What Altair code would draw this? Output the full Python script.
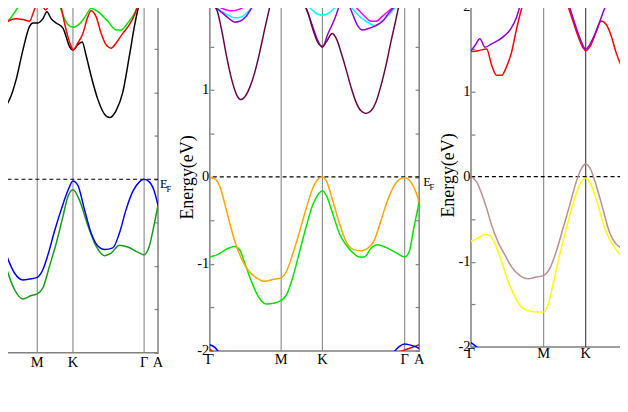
import altair as alt
import pandas as pd

FONT = "Liberation Serif"
FRAME = "#808080"
VLINE = "#888888"

# ---------------- high-symmetry path ----------------
sym_names = ["Γ", "M", "K", "Γ", "A"]
sym_a = [0.0, 0.577, 0.911, 1.577, 1.707]
sym_b = [0.0, 0.577, 0.911, 1.577, 1.694]
sym_c = [0.0, 0.577, 0.911, 1.577, 1.694]
energy_ticks = [-2, -1.5, -1, -0.5, 0, 0.5, 1, 1.5, 2]

# ---------------- panel (a) bands ----------------
a_black_k = [0.240, 0.287, 0.318, 0.380, 0.443, 0.505, 0.537, 0.583, 0.630, 0.667, 0.707, 0.754, 0.817,
             0.848, 0.878, 0.911, 0.957, 0.997, 1.035, 1.081, 1.144, 1.206, 1.252, 1.315, 1.377, 1.439,
             1.486, 1.530]
a_black_e = [0.90, 0.86, 0.92, 1.15, 1.49, 1.76, 1.80, 1.80, 1.85, 1.93, 1.85, 1.80, 1.74,
             1.64, 1.53, 1.49, 1.55, 1.58, 1.42, 1.19, 0.92, 0.75, 0.71, 0.79, 1.00, 1.42,
             1.76, 2.02]
a_green1_k = [0.240, 0.303, 0.380, 0.415]
a_green1_e = [1.75, 1.82, 1.95, 2.02]
a_green2_k = [0.780, 0.832, 0.864, 0.910, 0.972, 1.035, 1.081, 1.144, 1.237, 1.315, 1.362, 1.424, 1.486, 1.525]
a_green2_e = [2.02, 1.85, 1.78, 1.75, 1.79, 1.89, 1.97, 1.93, 1.82, 1.72, 1.72, 1.80, 1.91, 2.02]
a_red1_k = [0.240, 0.303, 0.380, 0.443, 0.505, 0.537, 0.570]
a_red1_e = [1.75, 1.82, 1.85, 1.84, 1.82, 1.91, 2.02]
a_red2_k = [0.620, 0.655, 0.690]
a_red2_e = [2.02, 1.95, 2.02]
a_red3_k = [0.795, 0.832, 0.864, 0.894, 0.911, 0.957, 1.004, 1.050, 1.081, 1.128, 1.175, 1.221, 1.268,
            1.315, 1.377, 1.439, 1.486, 1.523]
a_red3_e = [2.02, 1.80, 1.64, 1.53, 1.49, 1.57, 1.68, 1.87, 1.94, 1.87, 1.68, 1.55, 1.51,
            1.57, 1.68, 1.78, 1.89, 2.02]
a_blue_k = [0.240, 0.303, 0.364, 0.443, 0.505, 0.577, 0.630, 0.677, 0.738, 0.801, 0.864, 0.911, 0.957,
            1.019, 1.081, 1.144, 1.206, 1.284, 1.346, 1.408, 1.471, 1.533, 1.577, 1.626, 1.673, 1.707]
a_blue_e = [-0.68, -0.92, -1.08, -1.16, -1.15, -1.13, -1.04, -0.87, -0.60, -0.35, -0.13, -0.02, -0.07,
            -0.35, -0.62, -0.77, -0.81, -0.79, -0.62, -0.35, -0.14, -0.03, 0.00, -0.03, -0.14, -0.30]
a_dgreen_k = [0.240, 0.303, 0.364, 0.443, 0.521, 0.577, 0.630, 0.692, 0.754, 0.817, 0.864, 0.911, 0.972,
              1.050, 1.128, 1.206, 1.268, 1.346, 1.424, 1.518, 1.577, 1.626, 1.673, 1.707]
a_dgreen_e = [-0.81, -1.08, -1.27, -1.38, -1.34, -1.32, -1.25, -1.00, -0.74, -0.43, -0.20, -0.12, -0.24,
              -0.53, -0.77, -0.88, -0.85, -0.76, -0.78, -0.84, -0.87, -0.77, -0.51, -0.30]

# ---------------- panel (b) bands ----------------
b_maroon1_k = [0.0, 0.014, 0.054, 0.094, 0.135, 0.175, 0.215, 0.250, 0.282, 0.323, 0.363, 0.403, 0.444, 0.484, 0.495]
b_maroon1_e = [2.02, 1.985, 1.93, 1.70, 1.39, 1.13, 0.95, 0.89, 0.92, 1.03, 1.20, 1.43, 1.70, 1.95, 2.02]
b_maroon2_k = [0.745, 0.793, 0.833, 0.873, 0.911, 0.941, 0.990, 1.030, 1.062, 1.102, 1.143, 1.183, 1.223,
               1.264, 1.304, 1.344, 1.385, 1.425, 1.465, 1.506, 1.537]
b_maroon2_e = [2.02, 1.89, 1.70, 1.55, 1.50, 1.55, 1.65, 1.57, 1.43, 1.24, 1.03, 0.86, 0.76,
               0.73, 0.76, 0.86, 1.05, 1.28, 1.55, 1.81, 2.02]
b_violet1_k = [0.0, 0.081, 0.148, 0.202, 0.242, 0.296, 0.349, 0.370]
b_violet1_e = [2.0, 1.91, 1.83, 1.78, 1.79, 1.85, 1.97, 2.02]
b_violet2_k = [0.760, 0.820, 0.873, 0.911, 0.954, 1.008, 1.060]
b_violet2_e = [2.02, 1.78, 1.57, 1.49, 1.64, 1.81, 2.02]
b_violet3_k = [1.115, 1.156, 1.196, 1.236, 1.290, 1.344, 1.398, 1.452, 1.506, 1.577]
b_violet3_e = [2.02, 1.87, 1.74, 1.69, 1.71, 1.74, 1.79, 1.89, 1.97, 2.0]
b_cyan1_k = [0.0, 0.067, 0.135, 0.202, 0.256, 0.309, 0.363]
b_cyan1_e = [2.0, 1.93, 1.87, 1.83, 1.84, 1.90, 1.985]
b_cyan2_k = [0.766, 0.820, 0.873, 0.914, 0.968, 1.022, 1.062]
b_cyan2_e = [2.005, 1.93, 1.87, 1.86, 1.89, 1.96, 2.005]
b_cyan3_k = [1.115, 1.169, 1.223, 1.277, 1.331, 1.385, 1.452, 1.519, 1.577]
b_cyan3_e = [2.005, 1.91, 1.83, 1.78, 1.74, 1.78, 1.87, 1.97, 2.0]
b_magenta1_k = [0.0, 0.067, 0.135, 0.188, 0.242, 0.296, 0.336]
b_magenta1_e = [2.0, 1.96, 1.92, 1.91, 1.93, 1.97, 2.005]
b_magenta2_k = [1.143, 1.196, 1.250, 1.304, 1.344, 1.398, 1.465, 1.532, 1.577]
b_magenta2_e = [2.005, 1.93, 1.85, 1.79, 1.79, 1.85, 1.93, 1.985, 2.0]
b_orange_k = [0.0, 0.040, 0.081, 0.121, 0.161, 0.202, 0.256, 0.309, 0.377, 0.444, 0.510, 0.577, 0.619,
              0.672, 0.726, 0.780, 0.833, 0.873, 0.911, 0.941, 0.994, 1.048, 1.102, 1.156, 1.223, 1.277,
              1.331, 1.385, 1.438, 1.492, 1.546, 1.577, 1.627, 1.667, 1.694]
b_orange_e = [0.00, -0.02, -0.11, -0.31, -0.53, -0.74, -0.94, -1.07, -1.16, -1.20, -1.18, -1.16, -1.09,
              -0.88, -0.63, -0.36, -0.13, -0.03, 0.00, -0.04, -0.27, -0.53, -0.74, -0.83, -0.85, -0.82,
              -0.73, -0.50, -0.27, -0.10, -0.02, -0.01, -0.06, -0.17, -0.29]
b_green_k = [0.0, 0.067, 0.135, 0.202, 0.242, 0.282, 0.336, 0.390, 0.457, 0.524, 0.577, 0.619, 0.672,
             0.726, 0.780, 0.833, 0.873, 0.911, 0.941, 0.994, 1.048, 1.102, 1.156, 1.210, 1.250, 1.304,
             1.357, 1.425, 1.506, 1.577, 1.613, 1.653, 1.694]
b_green_e = [-0.92, -0.89, -0.83, -0.80, -0.84, -0.99, -1.20, -1.37, -1.46, -1.45, -1.42, -1.36, -1.15,
             -0.86, -0.57, -0.32, -0.21, -0.16, -0.21, -0.42, -0.65, -0.78, -0.87, -0.92, -0.92, -0.82,
             -0.78, -0.81, -0.87, -0.92, -0.86, -0.57, -0.29]
b_blue1_k = [0.0, 0.040, 0.075]
b_blue1_e = [-1.93, -1.96, -2.02]
b_blue2_k = [1.485, 1.532, 1.577, 1.640, 1.694]
b_blue2_e = [-2.02, -1.95, -1.92, -1.94, -1.97]
b_red1_k = [0.0, 0.030]
b_red1_e = [-1.98, -2.02]
b_red2_k = [1.520, 1.577, 1.694]
b_red2_e = [-2.02, -1.99, -1.93]

# ---------------- panel (c) bands ----------------
c_red1_k = [0.0, 0.058, 0.124, 0.164, 0.203, 0.243, 0.282, 0.322, 0.361, 0.401, 0.413]
c_red1_e = [1.47, 1.48, 1.50, 1.31, 1.19, 1.19, 1.29, 1.46, 1.73, 1.97, 2.03]
c_red2_k = [0.769, 0.809, 0.848, 0.888, 0.911, 0.949, 0.994, 1.033, 1.073, 1.112, 1.152, 1.191, 1.243]
c_red2_e = [2.01, 1.83, 1.66, 1.52, 1.48, 1.54, 1.70, 1.83, 1.79, 1.66, 1.46, 1.31, 1.19]
c_violet1_k = [0.0, 0.032, 0.071, 0.111, 0.164, 0.216, 0.269, 0.322, 0.361, 0.387, 0.400]
c_violet1_e = [1.48, 1.54, 1.62, 1.52, 1.56, 1.60, 1.66, 1.75, 1.87, 1.99, 2.03]
c_violet2_k = [0.775, 0.822, 0.862, 0.911, 0.967, 1.020, 1.073, 1.085]
c_violet2_e = [2.03, 1.81, 1.64, 1.50, 1.62, 1.81, 2.01, 2.03]
c_violet3_k = [1.190, 1.243]
c_violet3_e = [2.02, 1.91]
c_brown_k = [0.0, 0.045, 0.085, 0.124, 0.164, 0.216, 0.269, 0.322, 0.387, 0.453, 0.519, 0.577, 0.625,
             0.677, 0.730, 0.783, 0.836, 0.875, 0.911, 0.949, 0.994, 1.046, 1.099, 1.152, 1.204, 1.243]
c_brown_e = [0.00, -0.06, -0.20, -0.37, -0.57, -0.77, -0.92, -1.06, -1.16, -1.20, -1.18, -1.16, -1.08,
             -0.88, -0.61, -0.34, -0.06, 0.09, 0.15, 0.09, -0.10, -0.37, -0.65, -0.79, -0.84, -0.85]
c_yellow_k = [0.0, 0.058, 0.111, 0.150, 0.190, 0.243, 0.295, 0.348, 0.401, 0.466, 0.532, 0.577, 0.611,
              0.651, 0.704, 0.757, 0.809, 0.862, 0.911, 0.954, 1.006, 1.059, 1.112, 1.164, 1.217, 1.243]
c_yellow_e = [-0.76, -0.72, -0.68, -0.69, -0.79, -1.00, -1.23, -1.41, -1.53, -1.58, -1.59, -1.59, -1.51,
              -1.27, -0.92, -0.61, -0.32, -0.10, -0.02, -0.10, -0.32, -0.59, -0.77, -0.88, -0.96, -1.00]
c_blue_k = [0.0, 0.045, 0.070]
c_blue_e = [-1.95, -2.00, -2.03]

# colours (xmgrace palette)
BLACK, RED, GREEN, BLUE, GREEN4 = "#000000", "#ff0000", "#00e600", "#0000ff", "#1a9a1a"
MAROON, VIOLET, CYAN, MAGENTA, ORANGE = "#670748", "#9400d3", "#00ffff", "#ff00ff", "#ffa500"
BROWN, YELLOW = "#bc8f8f", "#ffff00"

segments_a = [
    (BLACK, a_black_k, a_black_e), (GREEN, a_green1_k, a_green1_e), (GREEN, a_green2_k, a_green2_e),
    (RED, a_red1_k, a_red1_e), (RED, a_red2_k, a_red2_e), (RED, a_red3_k, a_red3_e),
    (GREEN4, a_dgreen_k, a_dgreen_e), (BLUE, a_blue_k, a_blue_e),
]
segments_b = [
    (MAGENTA, b_magenta1_k, b_magenta1_e), (MAGENTA, b_magenta2_k, b_magenta2_e),
    (CYAN, b_cyan1_k, b_cyan1_e), (CYAN, b_cyan2_k, b_cyan2_e), (CYAN, b_cyan3_k, b_cyan3_e),
    (VIOLET, b_violet1_k, b_violet1_e), (VIOLET, b_violet2_k, b_violet2_e), (VIOLET, b_violet3_k, b_violet3_e),
    (MAROON, b_maroon1_k, b_maroon1_e), (MAROON, b_maroon2_k, b_maroon2_e),
    (GREEN, b_green_k, b_green_e), (ORANGE, b_orange_k, b_orange_e),
    (RED, b_red1_k, b_red1_e), (RED, b_red2_k, b_red2_e),
    (BLUE, b_blue1_k, b_blue1_e), (BLUE, b_blue2_k, b_blue2_e),
]
segments_c = [
    (RED, c_red1_k, c_red1_e), (RED, c_red2_k, c_red2_e),
    (VIOLET, c_violet1_k, c_violet1_e), (VIOLET, c_violet2_k, c_violet2_e), (VIOLET, c_violet3_k, c_violet3_e),
    (YELLOW, c_yellow_k, c_yellow_e), (BROWN, c_brown_k, c_brown_e),
    (BLUE, c_blue_k, c_blue_e),
]


def band_frame(segments):
    rows = []
    for i, (col, ks, es) in enumerate(segments):
        for k, e in zip(ks, es):
            rows.append({"col": col, "seg": i, "k": k, "E": e})
    return pd.DataFrame(rows)


def panel(segments, sym, shown, ytop, width, height, label_dy, show_left, ef_dx, vline_colors):
    xmax = sym[-1]
    xscale = alt.Scale(domain=[0, xmax], nice=False, zero=False)
    yscale = alt.Scale(domain=[-2, ytop], nice=False, zero=False)
    tick_common = dict(values=energy_ticks, offset=-4, tickSize=4, tickColor=FRAME, tickWidth=1.2,
                       domain=False, grid=False, labelOverlap=False)
    if show_left:
        left_axis = alt.Axis(orient="left", labelExpr="datum.value % 1 === 0 ? '' + datum.value : ''",
                             labelFont=FONT, labelFontSize=14.5, labelColor="black", labelPadding=1,
                             title="Energy(eV)", titleFont=FONT, titleFontSize=18, titleFontWeight="normal",
                             titleColor="black", titlePadding=0, **tick_common)
    else:
        left_axis = None
    right_axis = alt.Axis(orient="right", labels=False, title=None, **tick_common)

    layers = []
    for kv, c in zip(sym[1:4], vline_colors):
        layers.append(
            alt.Chart(pd.DataFrame({"k": [kv]})).mark_rule(color=c, strokeWidth=1.1)
            .encode(x=alt.X("k:Q", scale=xscale, axis=None))
        )
    layers.append(
        alt.Chart(pd.DataFrame({"E": [0.0]}))
        .mark_rule(color="black", strokeWidth=1.2, strokeDash=[4, 3])
        .encode(y=alt.Y("E:Q", scale=yscale, axis=right_axis))
    )
    layers.append(
        alt.Chart(band_frame(segments))
        .mark_line(clip=True, strokeWidth=1.5, interpolate="monotone")
        .encode(
            x=alt.X("k:Q", scale=xscale, axis=None),
            y=alt.Y("E:Q", scale=yscale, axis=left_axis),
            color=alt.Color("col:N", scale=None),
            detail="seg:N",
        )
    )
    # k-point labels under the frame
    lab = pd.DataFrame({"k": [sym[i] for i in shown], "name": [sym_names[i] for i in shown],
                        "E": [-2.0] * len(shown)})
    layers.append(
        alt.Chart(lab).mark_text(font=FONT, fontSize=14.5, baseline="top", align="center",
                                 dy=label_dy, color="black")
        .encode(x=alt.X("k:Q", scale=xscale, axis=None), y=alt.Y("E:Q", scale=yscale, axis=None),
                text="name:N")
    )
    if ef_dx is not None:
        base = alt.Chart(pd.DataFrame({"k": [xmax], "E": [0.0]})).encode(
            x=alt.X("k:Q", scale=xscale, axis=None), y=alt.Y("E:Q", scale=yscale, axis=None))
        layers.append(base.mark_text(text="E", font=FONT, fontSize=12.5, align="left", baseline="middle",
                                     dx=ef_dx, dy=5.2, color="black"))
        layers.append(base.mark_text(text="F", font=FONT, fontSize=8.5, align="left", baseline="middle",
                                     dx=ef_dx + 6.5, dy=10, color="black"))
    return alt.layer(*layers).resolve_axis(y="independent").properties(width=width, height=height)


# panel (a) is cut by the left edge, panel (c) by the right edge of the figure
pa = panel(segments_a, sym_a, [1, 2, 3, 4], 2.03, 183, 351, 3.3, False, 2, [VLINE, VLINE, VLINE])
pb = panel(segments_b, sym_b, [0, 1, 2, 3, 4], 2.0, 210, 349, 2, True, 4, [VLINE, VLINE, VLINE])
pc = panel(segments_c, sym_c, [0, 1, 2], 2.04, 214, 345, 0, True, None, [VLINE, "#3a3a3a", VLINE])

chart = (
    alt.hconcat(pa, pb, pc, spacing=52, bounds="flush")
    .properties(padding={"left": -34.5, "top": -14.6, "right": -66.5, "bottom": 6})
    .configure_view(stroke=FRAME, strokeWidth=1.5)
)

chart.save("out.html", embed_options={"renderer": "svg", "actions": False})
